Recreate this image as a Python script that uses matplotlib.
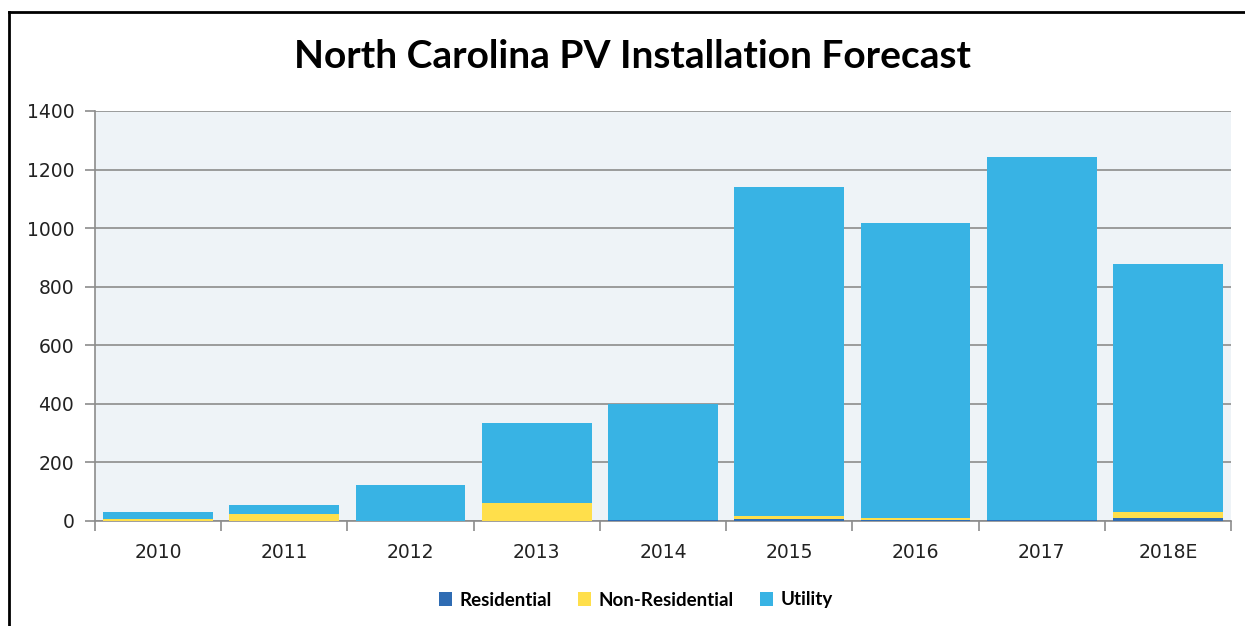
import matplotlib.pyplot as plt
from matplotlib.lines import Line2D
import numpy as np

years = ["2010", "2011", "2012", "2013", "2014", "2015", "2016", "2017", "2018E"]
residential = [0, 0, 0, 0, 5, 6, 5, 5, 11]
non_residential = [8, 24, 0, 61, 0, 12, 6, 0, 19]
utility = [23, 31, 123, 274, 395, 1122, 1006, 1237, 847]

c_res = "#2F6CB3"
c_non = "#FFDF4B"
c_util = "#38B3E4"

fig = plt.figure(figsize=(12.45, 6.26), dpi=100)
ax = fig.add_axes([95 / 1245, 1 - 521 / 626, (1231 - 95) / 1245, (521 - 111) / 626])
ax.set_facecolor("#EEF3F7")

x = np.arange(len(years))
w = 0.87
res = np.array(residential)
non = np.array(non_residential)
util = np.array(utility)
ax.bar(x, res, w, color=c_res, label="Residential", zorder=3)
ax.bar(x, non, w, bottom=res, color=c_non, label="Non-Residential", zorder=3)
ax.bar(x, util, w, bottom=res + non, color=c_util, label="Utility", zorder=3)

ax.set_xlim(-0.5, len(years) - 0.5)
ax.set_ylim(0, 1400)
ax.set_yticks(np.arange(0, 1401, 200))
ax.yaxis.grid(True, color="#8C8C8C", lw=1.2, zorder=0)
ax.set_axisbelow(True)

# category labels centered, tick marks on the boundaries
ax.set_xticks(x)
ax.set_xticklabels(years, fontsize=13.5, color="#222222")
ax.tick_params(axis="x", length=0, pad=16)
ax.set_xticks(np.arange(-0.5, len(years)), minor=True)
ax.tick_params(axis="x", which="minor", length=7, color="#8C8C8C", width=1.2)
ax.tick_params(axis="y", length=7, color="#8C8C8C", width=1.2, labelsize=13.5,
               labelcolor="#222222", pad=8)

for s in ["top", "right"]:
    ax.spines[s].set_visible(False)
for s in ["left", "bottom"]:
    ax.spines[s].set_color("#8C8C8C")
    ax.spines[s].set_linewidth(1.2)

fig.text(633 / 1245, 1 - 57 / 626, "North Carolina PV Installation Forecast",
         ha="center", va="center", fontsize=28, fontweight="bold", family="Lato")

leg = fig.legend(loc="center", bbox_to_anchor=(636 / 1245, 1 - 600 / 626), ncol=3,
                 frameon=False, prop={"family": "Lato", "weight": "bold", "size": 13.5},
                 handlelength=0.7, handleheight=0.7, handletextpad=0.4, columnspacing=1.4)

# outer chart border (left and top visible)
fig.add_artist(Line2D([9 / 1245, 9 / 1245], [0, 1 - 12 / 626], color="black", lw=2,
                      transform=fig.transFigure))
fig.add_artist(Line2D([9 / 1245, 1], [1 - 12 / 626, 1 - 12 / 626], color="black", lw=2,
                      transform=fig.transFigure))

fig.savefig("out.png", dpi=100)
